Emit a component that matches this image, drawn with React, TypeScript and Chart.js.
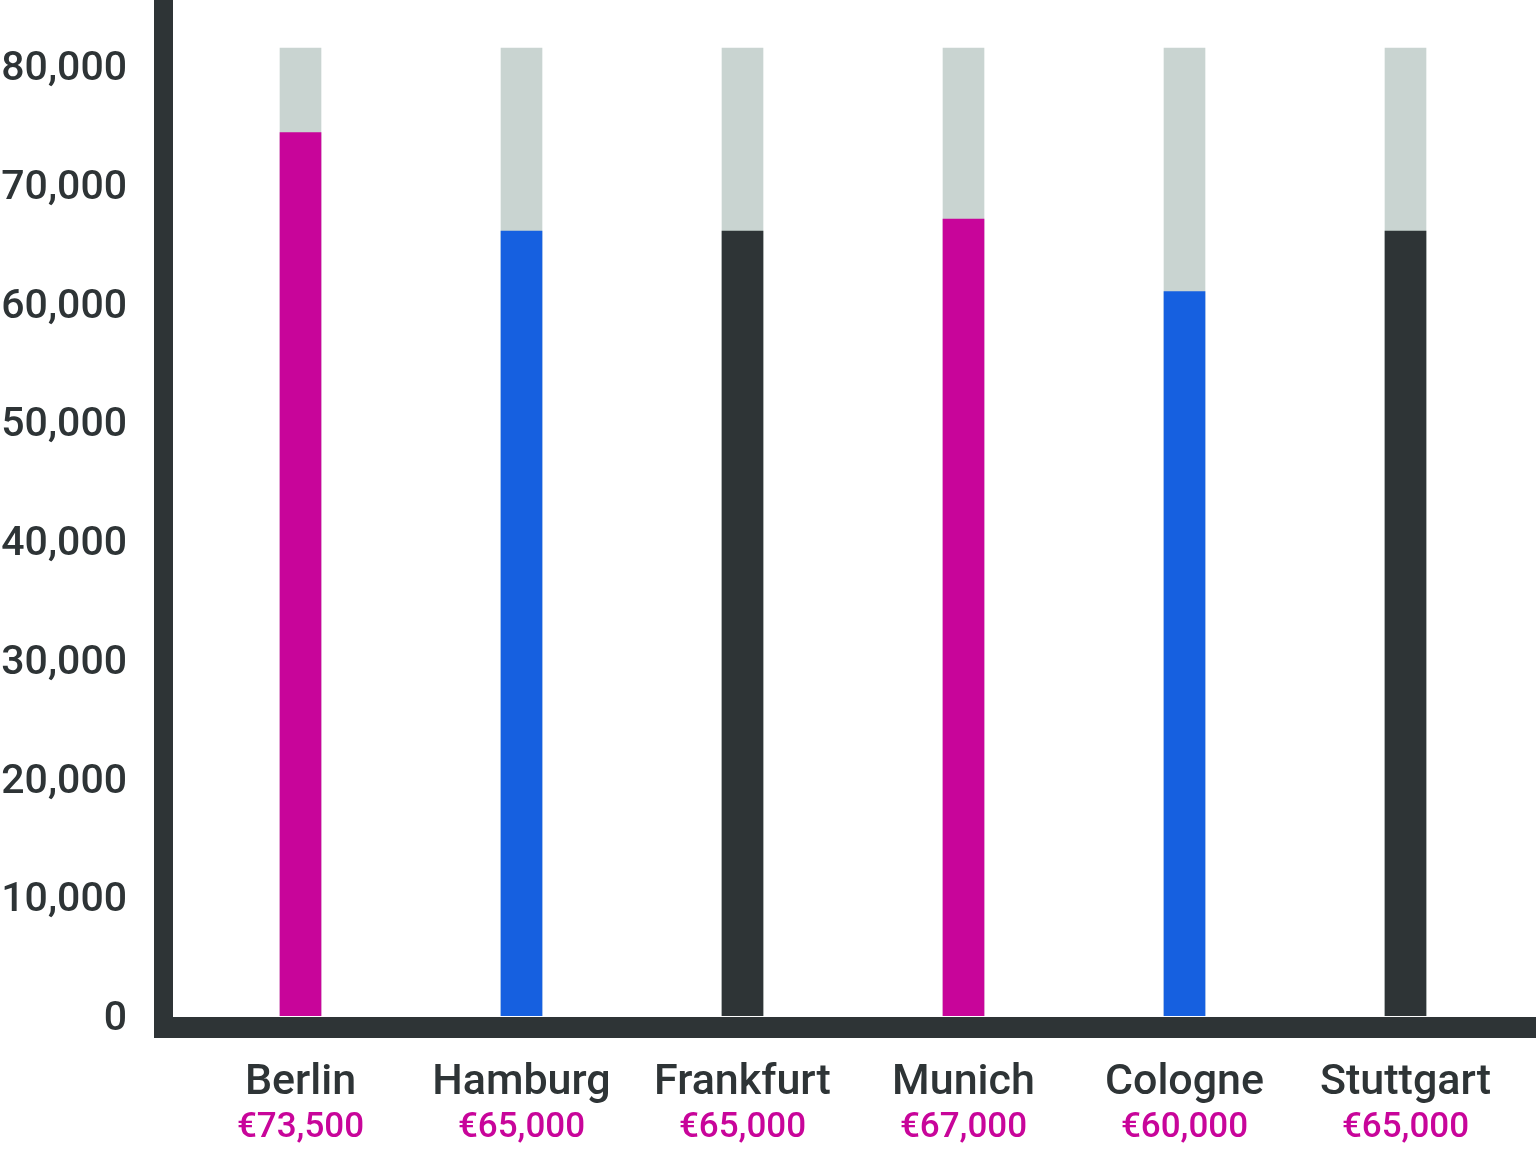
import React, { useEffect, useRef } from "react";
import { Chart, registerables } from "chart.js";

Chart.register(...registerables);

const cities = ["Berlin", "Hamburg", "Frankfurt", "Munich", "Cologne", "Stuttgart"];
const salaryLabels = ["€73,500", "€65,000", "€65,000", "€67,000", "€60,000", "€65,000"];
const barValues = [74400, 66100, 66100, 67100, 61000, 66100];
const backgroundValues = [81500, 81500, 81500, 81500, 81500, 81500];
const yTickValues = [0, 10000, 20000, 30000, 40000, 50000, 60000, 70000, 80000];
const yTickLabels = ["0", "10,000", "20,000", "30,000", "40,000", "50,000", "60,000", "70,000", "80,000"];

const PINK = "#c8059a";
const BLUE = "#1660e0";
const DARK = "#2e3436";
const GRAY = "#c9d4d1";
const barColors = [PINK, BLUE, DARK, PINK, BLUE, DARK];

const FONT = "Roboto";
const Y_FONT_SIZE = 41;
const Y_AXIS_WIDTH = 190;
const Y_LABEL_RIGHT = 127;

const axisLinesPlugin = {
  id: "axisLines",
  afterDraw(chart: any) {
    const { ctx, chartArea } = chart;
    ctx.save();
    ctx.fillStyle = DARK;
    const yLineLeft = chartArea.left - 36;
    ctx.fillRect(yLineLeft, 0, 19, chartArea.bottom + 22);
    ctx.fillRect(yLineLeft, chartArea.bottom + 1, chart.width - yLineLeft, 21);
    ctx.restore();
  },
};

const valueLabelsPlugin = {
  id: "valueLabels",
  afterDraw(chart: any) {
    const { ctx, chartArea } = chart;
    const xScale = chart.scales.x;
    ctx.save();
    ctx.fillStyle = PINK;
    ctx.font = `500 35px ${FONT}`;
    ctx.textAlign = "center";
    ctx.textBaseline = "alphabetic";
    salaryLabels.forEach((label, i) => {
      ctx.fillText(label, xScale.getPixelForValue(i), chartArea.bottom + 121);
    });
    ctx.restore();
  },
};

export default function App() {
  const canvasRef = useRef<HTMLCanvasElement | null>(null);

  useEffect(() => {
    if (!canvasRef.current) return;
    const mctx = canvasRef.current.getContext("2d")!;
    mctx.font = `500 ${Y_FONT_SIZE}px ${FONT}`;
    const widest = Math.max(...yTickLabels.map((t) => mctx.measureText(t).width));
    const yPad = Y_LABEL_RIGHT - Y_AXIS_WIDTH - widest;

    const chart = new Chart(canvasRef.current, {
      type: "bar",
      data: {
        labels: cities,
        datasets: [
          {
            data: barValues,
            backgroundColor: barColors,
            barThickness: 41,
            grouped: false,
            order: 0,
          },
          {
            data: backgroundValues,
            backgroundColor: GRAY,
            barThickness: 41,
            grouped: false,
            order: 1,
          },
        ],
      },
      options: {
        animation: false,
        responsive: true,
        maintainAspectRatio: false,
        layout: { padding: { top: 30, right: 20, left: 0, bottom: 0 } },
        plugins: { legend: { display: false }, tooltip: { enabled: false } },
        scales: {
          x: {
            offset: true,
            grid: { display: false, drawTicks: false },
            border: { display: false },
            ticks: {
              color: DARK,
              font: { family: FONT, size: 43, weight: "500" },
              padding: 41,
              maxRotation: 0,
              autoSkip: false,
            },
            afterFit(scale: any) {
              scale.height = 133;
            },
          },
          y: {
            min: 0,
            max: 83030,
            bounds: "data",
            grid: { display: false, drawTicks: false },
            border: { display: false },
            afterBuildTicks(scale: any) {
              scale.ticks = yTickValues.map((value) => ({ value }));
            },
            ticks: {
              autoSkip: false,
              mirror: true,
              crossAlign: "far",
              padding: yPad,
              labelOffset: 4,
              color: DARK,
              font: { family: FONT, size: Y_FONT_SIZE, weight: "500" },
              callback: (v: any) => yTickLabels[yTickValues.indexOf(Number(v))] ?? "",
            },
            afterFit(scale: any) {
              scale.width = Y_AXIS_WIDTH;
            },
          },
        },
      },
      plugins: [axisLinesPlugin, valueLabelsPlugin],
    });
    return () => chart.destroy();
  }, []);

  return (
    <div style={{ position: "absolute", left: 0, top: 0, width: 1536, height: 1149, background: "#ffffff" }}>
      <canvas ref={canvasRef} />
    </div>
  );
}
